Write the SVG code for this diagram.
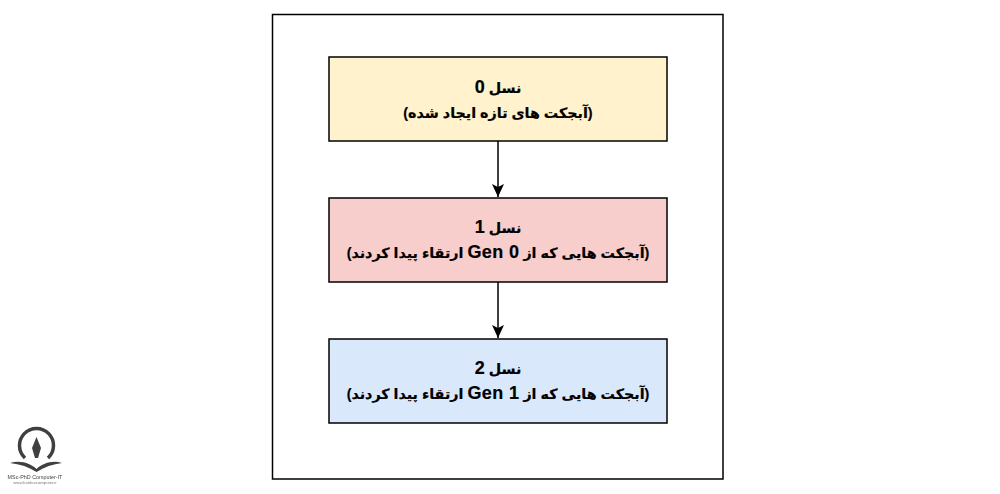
<svg xmlns="http://www.w3.org/2000/svg" width="1000" height="494" viewBox="0 0 1000 494">
<defs>
<marker id="arrow" markerUnits="userSpaceOnUse" markerWidth="16" markerHeight="16" refX="14" refY="8" orient="auto"><path d="M1 2L14 8L1 14L4 8Z" fill="#000"/></marker>
<filter id="soft" x="-10%" y="-10%" width="120%" height="120%"><feGaussianBlur stdDeviation="0.35"/></filter>
</defs>
<style>
.box{stroke:#000;stroke-width:1.500}
.t{font-family:"Liberation Sans","DejaVu Sans",sans-serif;font-weight:700;font-size:14.300px;fill:#000;text-anchor:middle;stroke:#000;stroke-width:.2}
.l{font-size:18px;letter-spacing:.4px}
.c{stroke:#000;stroke-width:1.500;fill:none;marker-end:url(#arrow)}
</style>
<rect width="1000" height="494" fill="#fff"/>
<rect id="frame" x="272.500" y="14.500" width="450.500" height="464.500" fill="#fff" stroke="#000" stroke-width="1.500"/>
<g id="connectors">
<path class="c" d="M498 141V197"/>
<path class="c" d="M498 282V338"/>
</g>
<g id="node-gen0">
<rect class="box" x="329" y="57" width="338" height="84" fill="#fff2cc"/>
<text class="t" x="498" y="93" direction="rtl">نسل <tspan class="l">0</tspan></text>
<text class="t" x="498" y="118" direction="rtl">(آبجکت های تازه ایجاد شده)</text>
</g>
<g id="node-gen1">
<rect class="box" x="329" y="198" width="338" height="84" fill="#f8cecc"/>
<text class="t" x="498" y="233" direction="rtl">نسل <tspan class="l">1</tspan></text>
<text class="t" x="498" y="258" direction="rtl">(آبجکت هایی که از <tspan class="l">Gen 0</tspan> ارتقاء پیدا کردند)</text>
</g>
<g id="node-gen2">
<rect class="box" x="329" y="339" width="338" height="84" fill="#dae8fc"/>
<text class="t" x="498" y="374" direction="rtl">نسل <tspan class="l">2</tspan></text>
<text class="t" x="498" y="399" direction="rtl">(آبجکت هایی که از <tspan class="l">Gen 1</tspan> ارتقاء پیدا کردند)</text>
</g>
<g id="logo" filter="url(#soft)">
<path d="M25 458A17 17 0 1 1 48 458" fill="none" stroke="#3f3f3f" stroke-width="3.500"/>
<path d="M36.500 437L41 448L38 458H35L32 448Z" fill="#3f3f3f"/>
<path d="M10 463C20 460 30 463 36.500 469C43 463 53 460 62 463C53 464 44 467 36.500 472C29 467 20 464 10 463Z" fill="#3f3f3f"/>
<text x="35" y="479" text-anchor="middle" font-family="Liberation Sans,sans-serif" font-size="5.400" fill="#444">MSc-PhD Computer-IT</text>
<text x="35" y="484" text-anchor="middle" font-family="Liberation Sans,sans-serif" font-size="4.200" fill="#777">www.konkurcomputer.ir</text>
</g>
</svg>
